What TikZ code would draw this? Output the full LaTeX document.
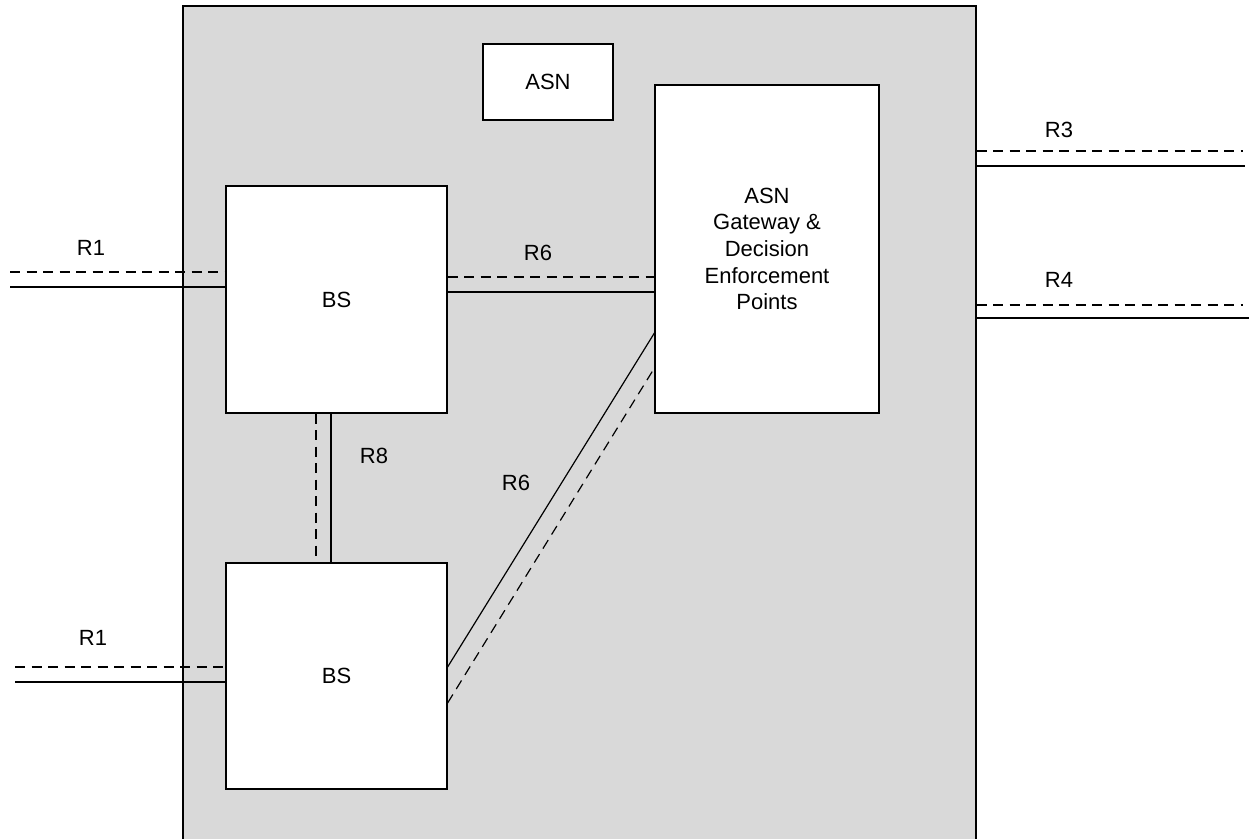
\documentclass[tikz,border=0pt]{standalone}
\usepackage{fontspec}
\setmainfont{Liberation Sans}
\definecolor{areagrey}{RGB}{217,217,217}
\begin{document}
\begin{tikzpicture}[x=1pt,y=-1pt,
  box/.style={draw,fill=white,line width=1.2pt,inner sep=0pt,font=\fontsize{22}{26.6}\selectfont,align=center},
  lbl/.style={font=\fontsize{22}{26}\selectfont,inner sep=0pt},
  sol/.style={line width=1.2pt},
  dsh/.style={line width=1.2pt,dash pattern=on 10pt off 6.5pt}]
\useasboundingbox (0,0) rectangle (1249,838);
\node[draw,fill=areagrey,line width=1.2pt,inner sep=0pt,minimum width=793pt,minimum height=840pt] (area) at (579.5,426) {};
\node[box,minimum width=130pt,minimum height=76pt] (asn) at (548,82) {ASN};
\node[box,minimum width=224pt,minimum height=328pt] (gw) at (767,249) {ASN\\Gateway \&\\Decision\\Enforcement\\Points};
\node[box,minimum width=221pt,minimum height=227pt] (bs1) at (336.5,299.5) {BS};
\node[box,minimum width=221pt,minimum height=226pt] (bs2) at (336.5,676) {BS};
% free ends
\coordinate (r1aL) at (10,272);
\coordinate (r1bL) at (10,287);
\coordinate (r1cL) at (15,667);
\coordinate (r1dL) at (15,682);
\coordinate (r3a) at (1243,151);
\coordinate (r3b) at (1245,166);
\coordinate (r4a) at (1243,305);
\coordinate (r4b) at (1249,318);
% R1 top
\draw[dsh] (r1aL) -- (r1aL -| bs1.west);
\draw[sol] (r1bL) -- (r1bL -| bs1.west);
% R1 bottom
\draw[dsh] (r1cL) -- (r1cL -| bs2.west);
\draw[sol] (r1dL) -- (r1dL -| bs2.west);
% R6 horizontal
\draw[dsh] (bs1.east |- 0,277) -- (gw.west |- 0,277);
\draw[sol] (bs1.east |- 0,292) -- (gw.west |- 0,292);
% R8
\draw[dsh] (bs1.south -| 316,0) -- (bs2.north -| 316,0);
\draw[sol] (bs1.south -| 331,0) -- (bs2.north -| 331,0);
% R6 diagonal
\draw[sol] (bs2.east |- 0,667) -- (gw.west |- 0,333);
\draw[dsh] (bs2.east |- 0,703) -- (gw.west |- 0,368);
% R3, R4
\draw[dsh] (area.east |- r3a) -- (r3a);
\draw[sol] (area.east |- r3b) -- (r3b);
\draw[dsh] (area.east |- r4a) -- (r4a);
\draw[sol] (area.east |- r4b) -- (r4b);
% labels
\node[lbl] (l1) at (91,248) {R1};
\node[lbl] (l2) at (93,638) {R1};
\node[lbl] (l3) at (538,253) {R6};
\node[lbl] (l4) at (374,456) {R8};
\node[lbl] (l5) at (516,483) {R6};
\node[lbl] (l6) at (1059,130) {R3};
\node[lbl] (l7) at (1059,280) {R4};
\end{tikzpicture}
\end{document}
